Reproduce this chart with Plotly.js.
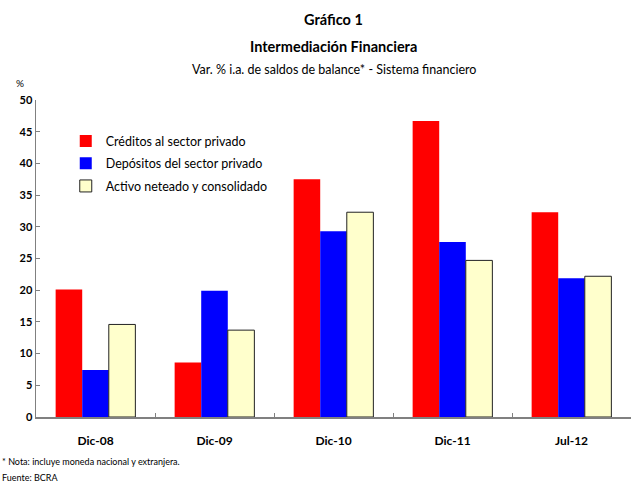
<!DOCTYPE html>
<html>
<head>
<meta charset="utf-8">
<script src="https://cdn.plot.ly/plotly-3.0.1.min.js"></script>
<style>
  body { margin: 0; background: #fff; }
  #chart { width: 631px; height: 484px; }
</style>
</head>
<body>
<div id="chart"></div>
<script>
// categories and series
var periodos = ['Dic-08', 'Dic-09', 'Dic-10', 'Dic-11', 'Jul-12'];
var creditos = [20.1, 8.6, 37.5, 46.7, 32.3];
var depositos = [7.4, 19.9, 29.3, 27.6, 21.9];
var activo = [14.6, 13.7, 32.3, 24.7, 22.2];
var yTicks = [0, 5, 10, 15, 20, 25, 30, 35, 40, 45, 50];

var fuente = 'Lato, "Open Sans", sans-serif';

var trace1 = {
  type: 'bar',
  x: periodos,
  y: creditos,
  name: 'Créditos al sector privado',
  legend: 'legend',
  marker: { color: '#ff0000', line: { width: 0 } }
};

var trace2 = {
  type: 'bar',
  x: periodos,
  y: depositos,
  name: 'Depósitos del sector privado',
  legend: 'legend2',
  marker: { color: '#0000ff', line: { width: 0 } }
};

var trace3 = {
  type: 'bar',
  x: periodos,
  y: activo,
  name: 'Activo neteado y consolidado',
  legend: 'legend3',
  marker: { color: '#ffffcc', line: { color: '#222222', width: 1 } }
};

// one legend box per series so the row spacing can follow the reference
function leyenda(y) {
  return {
    x: 0.05,
    y: y,
    xanchor: 'left',
    yanchor: 'top',
    bgcolor: 'rgba(0,0,0,0)',
    font: { family: fuente, size: 12.5 }
  };
}

var layout = {
  width: 631,
  height: 484,
  margin: { l: 36, r: 0, t: 100, b: 67 },
  paper_bgcolor: '#ffffff',
  plot_bgcolor: '#ffffff',
  font: { family: fuente, color: '#000000', size: 11 },
  barmode: 'group',
  bargap: 0.33,
  bargroupgap: 0,
  showlegend: true,
  legend: leyenda(0.917),
  legend2: leyenda(0.847),
  legend3: leyenda(0.775),
  xaxis: {
    type: 'category',
    showline: true,
    linecolor: '#808080',
    linewidth: 1.5,
    ticks: 'inside',
    tickson: 'boundaries',
    ticklen: 4,
    tickcolor: '#808080',
    showgrid: false,
    tickfont: { family: fuente, size: 12, weight: 'bold' },
    ticklabelstandoff: 12
  },
  yaxis: {
    range: [0, 50],
    tickvals: yTicks,
    showline: true,
    linecolor: '#808080',
    linewidth: 1.5,
    ticks: 'inside',
    ticklen: 4,
    tickcolor: '#808080',
    showgrid: false,
    zeroline: false,
    tickfont: { family: fuente, size: 11, weight: 'bold' }
  },
  annotations: [
    { text: '<b>Gráfico 1</b>', xref: 'paper', yref: 'paper', x: 0.5, y: 1, yshift: 91,
      showarrow: false, font: { size: 14.5 }, xanchor: 'center' },
    { text: '<b>Intermediación Financiera</b>', xref: 'paper', yref: 'paper', x: 0.5, y: 1, yshift: 64,
      showarrow: false, font: { size: 14.5 }, xanchor: 'center' },
    { text: 'Var. % i.a. de saldos de balance* - Sistema financiero', xref: 'paper', yref: 'paper',
      x: 0.5, y: 1, yshift: 40, showarrow: false, font: { size: 12.5 }, xanchor: 'center' },
    { text: '%', xref: 'paper', yref: 'paper', x: 0, xshift: -16, y: 1, yshift: 25,
      showarrow: false, font: { size: 10 }, xanchor: 'center' },
    { text: '* Nota: incluye moneda nacional y extranjera.', xref: 'paper', yref: 'paper',
      x: 0, xshift: -36, y: 0, yshift: -52, showarrow: false, font: { size: 9 }, xanchor: 'left' },
    { text: 'Fuente: BCRA', xref: 'paper', yref: 'paper',
      x: 0, xshift: -36, y: 0, yshift: -68, showarrow: false, font: { size: 9 }, xanchor: 'left' }
  ]
};

Plotly.newPlot('chart', [trace1, trace2, trace3], layout, { displayModeBar: false, staticPlot: true });
</script>
</body>
</html>
